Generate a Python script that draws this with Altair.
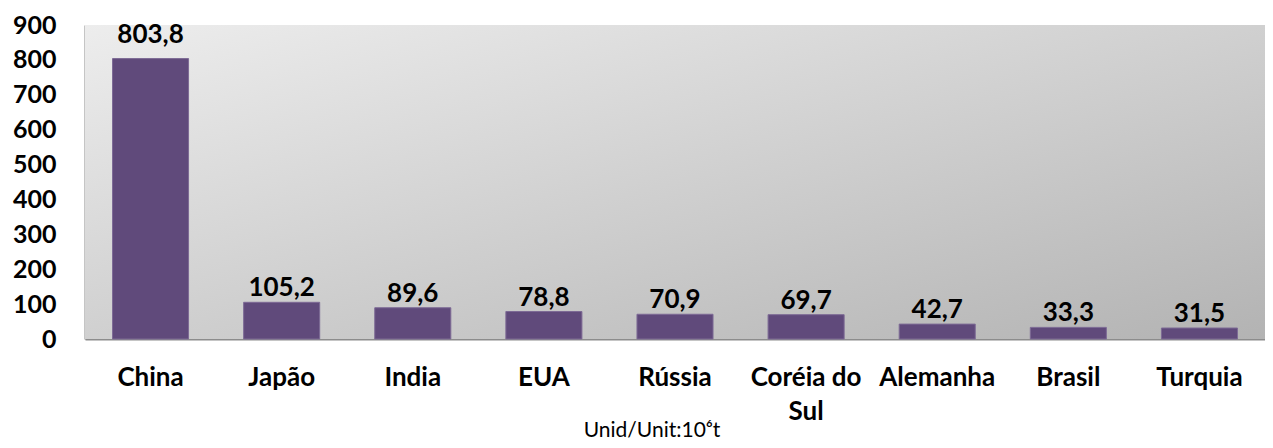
import altair as alt
import pandas as pd

countries = ["China", "Japão", "India", "EUA", "Rússia", "Coréia do Sul", "Alemanha", "Brasil", "Turquia"]
values = [803.8, 105.2, 89.6, 78.8, 70.9, 69.7, 42.7, 33.3, 31.5]
labels = ["803,8", "105,2", "89,6", "78,8", "70,9", "69,7", "42,7", "33,3", "31,5"]
y_ticks = [0, 100, 200, 300, 400, 500, 600, 700, 800, 900]
footer = "Unid/Unit:10⁶t"

W, H = 1180, 314
FONT = "Lato"

df = pd.DataFrame({"country": countries, "value": values, "label": labels})

x_enc = alt.X("country:N", sort=countries, title=None,
              scale=alt.Scale(paddingInner=0.42, paddingOuter=0.21),
              axis=alt.Axis(labelAngle=0, labelFont=FONT, labelFontWeight="bold",
                            labelFontSize=26, labelColor="black", labelPadding=25,
                            labelBaseline="top", labelLineHeight=34,
                            labelExpr="datum.label == 'Coréia do Sul' ? ['Coréia do', 'Sul'] : datum.label",
                            ticks=False, domainColor="#8c8c8c", domainWidth=2,
                            labelLimit=300, labelOverlap=False))
y_enc = alt.Y("value:Q", title=None,
              scale=alt.Scale(domain=[0, 900], nice=False),
              axis=alt.Axis(values=y_ticks, grid=False, ticks=False, labelFont=FONT,
                            labelFontWeight="bold", labelFontSize=25, labelColor="black",
                            labelPadding=29, domainColor="#8c8c8c", domainWidth=2,
                            labelOverlap=False, labelBound=False, tickCount=10))

bg = alt.Chart(pd.DataFrame({"a": [0]})).mark_rect(
    fill=alt.Gradient(gradient="linear", x1=0, y1=0, x2=1, y2=1,
                      stops=[alt.GradientStop(color="#ededed", offset=0),
                             alt.GradientStop(color="#b3b3b3", offset=1)])
).encode(x=alt.value(0), x2=alt.value(W), y=alt.value(0), y2=alt.value(H))

bars = alt.Chart(df).mark_bar(color="#604A7B", stroke="#7d6a95", strokeWidth=1).encode(
    x=x_enc, y=y_enc)

text_enc = dict(x=x_enc, y=y_enc, text="label:N")
text_main = alt.Chart(df).mark_text(font=FONT, fontWeight="bold", fontSize=26, color="black",
                                    baseline="alphabetic", dy=-6).encode(**text_enc
).transform_filter("datum.country != 'China'")
text_top = alt.Chart(df).mark_text(font=FONT, fontWeight="bold", fontSize=26, color="black",
                                   baseline="alphabetic", dy=-16).encode(**text_enc
).transform_filter("datum.country == 'China'")

foot = alt.Chart(pd.DataFrame({"t": [footer]})).mark_text(
    font=FONT, fontSize=21, color="black", baseline="alphabetic", align="center"
).encode(x=alt.value(567), y=alt.value(412), text="t:N")

chart = alt.layer(bg, bars, text_main, text_top, foot).properties(
    width=W, height=H,
    autosize=alt.AutoSizeParams(type="none"),
    padding={"left": 77, "top": 17, "right": 0, "bottom": 101},
).configure_view(stroke=None)

chart.save("out.html", embed_options={"renderer": "svg", "actions": False})
